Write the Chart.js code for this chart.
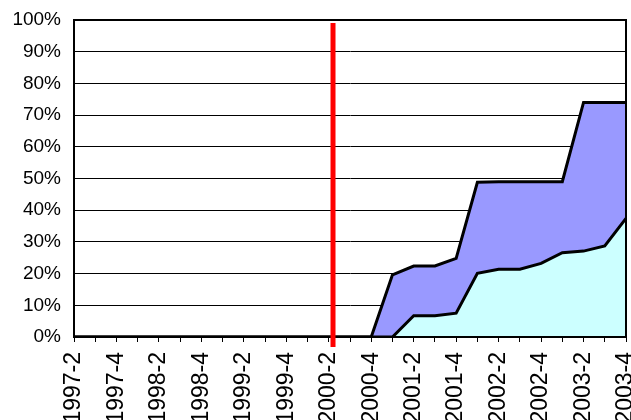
<!DOCTYPE html>
<html>
<head>
<meta charset="utf-8">
<script src="https://cdn.jsdelivr.net/npm/chart.js@4/dist/chart.umd.min.js"></script>
<style>
html,body{margin:0;padding:0;background:#fff;overflow:hidden;}
#wrap{width:631px;height:420px;position:relative;}
</style>
</head>
<body>
<div id="wrap"><canvas id="c"></canvas></div>
<script>
const categories = ["1997-2","1997-3","1997-4","1998-1","1998-2","1998-3","1998-4","1999-1","1999-2","1999-3","1999-4","2000-1","2000-2","2000-3","2000-4","2001-1","2001-2","2001-3","2001-4","2002-1","2002-2","2002-3","2002-4","2003-1","2003-2","2003-3","2003-4"];
const lowerSeries = [0,0,0,0,0,0,0,0,0,0,0,0,0,0,0,0,6.7,6.7,7.5,20.1,21.4,21.4,23.2,26.6,27.1,28.7,37.4];
const upperSeries = [0,0,0,0,0,0,0,0,0,0,0,0,0,0,0,19.6,15.7,15.7,17.3,28.7,27.6,27.6,25.8,22.4,46.9,45.3,36.6];
const yTicks = [0,10,20,30,40,50,60,70,80,90,100];
const markerPosition = 12.2;

const frame = {
  id: 'frame',
  afterDatasetsDraw(chart) {
    const {ctx, chartArea: a, scales} = chart;
    ctx.save();
    ctx.strokeStyle = '#000';
    ctx.lineWidth = 2;
    ctx.strokeRect(a.left, a.top, a.right - a.left, a.bottom - a.top);
    const x = scales.x.getPixelForValue(markerPosition);
    ctx.strokeStyle = '#FF0000';
    ctx.lineWidth = 5;
    ctx.beginPath();
    ctx.moveTo(x, a.top + 3);
    ctx.lineTo(x, a.bottom + 10);
    ctx.stroke();
    ctx.restore();
  }
};

new Chart(document.getElementById('c'), {
  type: 'line',
  data: {
    labels: categories,
    datasets: [
      {
        data: lowerSeries,
        backgroundColor: '#CCFFFF',
        borderColor: '#000',
        borderWidth: 3,
        fill: 'origin',
        pointRadius: 0,
        tension: 0
      },
      {
        data: upperSeries,
        backgroundColor: '#9999FF',
        borderColor: '#000',
        borderWidth: 3,
        fill: '-1',
        pointRadius: 0,
        tension: 0
      }
    ]
  },
  options: {
    responsive: true,
    maintainAspectRatio: false,
    animation: false,
    layout: {padding: {top: 20, right: 5, left: 0, bottom: 0}},
    plugins: {legend: {display: false}, tooltip: {enabled: false}},
    scales: {
      x: {
        offset: false,
        afterFit(scale) { scale.height = 83; scale.paddingRight = 0; scale.paddingLeft = 0; },
        grid: {drawOnChartArea: false, drawTicks: true, tickLength: 5, color: '#000', lineWidth: 1},
        border: {display: true, color: '#000', width: 2},
        ticks: {
          autoSkip: false,
          minRotation: 90,
          maxRotation: 90,
          padding: 10,
          color: '#000',
          font: {family: 'Liberation Sans, Arial, sans-serif', size: 23},
          callback(v, i) { return i % 2 === 0 ? categories[i] : ''; }
        }
      },
      y: {
        stacked: true,
        min: 0,
        max: 100,
        afterFit(scale) { scale.width = 74; scale.paddingTop = 0; scale.paddingBottom = 0; },
        afterBuildTicks(scale) { scale.ticks = yTicks.map(v => ({value: v})); },
        grid: {drawTicks: false, color: '#000', lineWidth: 1},
        border: {display: true, color: '#000', width: 2},
        ticks: {
          padding: 13,
          color: '#000',
          font: {family: 'Liberation Sans, Arial, sans-serif', size: 19},
          callback(v) { return v + '%'; }
        }
      }
    }
  },
  plugins: [frame]
});
</script>
</body>
</html>
